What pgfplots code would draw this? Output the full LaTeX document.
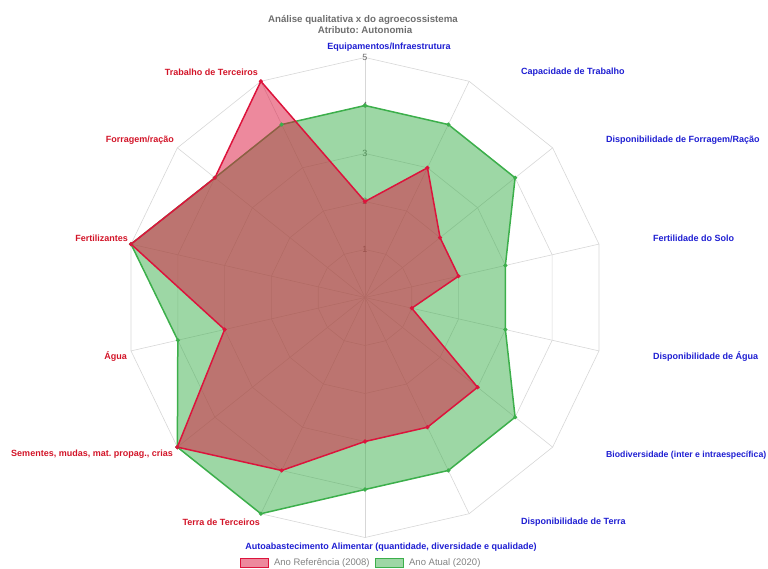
\documentclass[border=0pt]{standalone}
\usepackage{fontspec}
\setmainfont{Liberation Sans}
\usepackage{pgfplots}
\usepackage{pgfplotstable}
\pgfplotsset{compat=1.18}
\usepgfplotslibrary{polar}
\usetikzlibrary{calc}
\definecolor{lred}{RGB}{220,20,60}
\definecolor{lgreen}{RGB}{60,175,75}
\definecolor{lblue}{RGB}{30,30,210}
\definecolor{tred}{RGB}{210,20,40}
\definecolor{gridc}{RGB}{215,215,215}
\definecolor{titc}{RGB}{110,110,110}
\definecolor{legc}{RGB}{130,130,130}
\frenchspacing

\pgfplotstableread{
angle ref atual
90 2 4
64.2857 3 4
38.5714 2 4
12.8571 2 3
-12.8571 1 3
-38.5714 3 4
-64.2857 3 4
-90 3 4
-115.7143 4 5
-141.4286 5 5
-167.1429 3 4
167.1429 5 5
141.4286 4 4
115.7143 5 4
}\data

\begin{document}
\begin{tikzpicture}[x=1pt,y=1pt]
\begin{polaraxis}[
  name=ax, scale only axis, width=480pt, height=480pt,
  ymin=0, ymax=5, hide axis, clip=false,
  legend style={at={(axis description cs:0.4917,-0.053)}, anchor=center, draw=none, fill=none,
    legend columns=2, font=\fontsize{9.5}{10}\selectfont\frenchspacing, text=legc,
    /tikz/every odd column/.append style={column sep=3pt},
    /tikz/every even column/.append style={column sep=3pt}},
  legend image code/.code={\draw[#1] (0pt,-4.5pt) rectangle (28pt,4.5pt);},
]
\coordinate (O) at (axis cs:0,0);
\pgfplotsinvokeforeach{1,2,3,4,5}{
  \draw[gridc, line width=0.6pt] (axis cs:90,#1) -- (axis cs:64.2857,#1) -- (axis cs:38.5714,#1) -- (axis cs:12.8571,#1) -- (axis cs:-12.8571,#1) -- (axis cs:-38.5714,#1) -- (axis cs:-64.2857,#1) -- (axis cs:-90,#1) -- (axis cs:-115.7143,#1) -- (axis cs:-141.4286,#1) -- (axis cs:-167.1429,#1) -- (axis cs:167.1429,#1) -- (axis cs:141.4286,#1) -- (axis cs:115.7143,#1) -- cycle;
}
\pgfplotsinvokeforeach{90,64.2857,38.5714,12.8571,-12.8571,-38.5714,-64.2857,-90,-115.7143,-141.4286,-167.1429,167.1429,141.4286,115.7143}{
  \draw[gridc, line width=0.6pt] (axis cs:0,0) -- (axis cs:#1,5);
}
\pgfplotsinvokeforeach{1,2,3,4,5}{
  \node[text=titc, font=\fontsize{9}{9}\selectfont, inner sep=0pt] at (axis cs:90,#1) {#1};
}
\addlegendimage{draw=lred, fill=lred, fill opacity=0.5, line width=1.5pt}
\addlegendentry{Ano Referência (2008)}
\addlegendimage{draw=lgreen, fill=lgreen, fill opacity=0.5, line width=1.5pt}
\addlegendentry{Ano Atual (2020)}
\addplot[forget plot, draw=lgreen, fill=lgreen, fill opacity=0.5, line width=1.5pt, mark=*, mark size=1.2pt, mark options={fill opacity=1}] table[x=angle, y=atual]{\data} -- cycle;
\addplot[forget plot, draw=lred, fill=lred, fill opacity=0.5, line width=1.5pt, mark=*, mark size=1.2pt, mark options={fill opacity=1}] table[x=angle, y=ref]{\data} -- cycle;
\end{polaraxis}
\begin{scope}[font=\fontsize{9}{10}\selectfont\bfseries]
\node[text=titc, font=\fontsize{9.7}{10}\selectfont\bfseries] at ($(O)+(-2,278)$) {Análise qualitativa x do agroecossistema};
\node[text=titc, font=\fontsize{9.7}{10}\selectfont\bfseries] at ($(O)+(0,267)$) {Atributo: Autonomia};
\node[text=lblue, inner sep=0pt, anchor=center] at ($(O)+(24,250)$) {Equipamentos/Infraestrutura};
\node[text=lblue, inner sep=0pt, anchor=west] at ($(O)+(156,225)$) {Capacidade de Trabalho};
\node[text=lblue, inner sep=0pt, anchor=west] at ($(O)+(241,157)$) {Disponibilidade de Forragem/Ração};
\node[text=lblue, inner sep=0pt, anchor=west] at ($(O)+(288,59)$) {Fertilidade do Solo};
\node[text=lblue, inner sep=0pt, anchor=west] at ($(O)+(288,-59)$) {Disponibilidade de Água};
\node[text=lblue, inner sep=0pt, anchor=west, font=\fontsize{8.7}{10}\selectfont\bfseries] at ($(O)+(241,-158)$) {Biodiversidade (inter e intraespecífica)};
\node[text=lblue, inner sep=0pt, anchor=west] at ($(O)+(156,-225)$) {Disponibilidade de Terra};
\node[text=lblue, inner sep=0pt, anchor=center] at ($(O)+(26,-250)$) {Autoabastecimento Alimentar (quantidade, diversidade e qualidade)};
\node[text=tred, inner sep=0pt, anchor=east] at ($(O)+(-105,-225)$) {Terra de Terceiros};
\node[text=tred, inner sep=0pt, anchor=east] at ($(O)+(-192,-157)$) {Sementes, mudas, mat. propag., crias};
\node[text=tred, inner sep=0pt, anchor=east] at ($(O)+(-238,-59)$) {Água};
\node[text=tred, inner sep=0pt, anchor=east] at ($(O)+(-237,59)$) {Fertilizantes};
\node[text=tred, inner sep=0pt, anchor=east] at ($(O)+(-191,157)$) {Forragem/ração};
\node[text=tred, inner sep=0pt, anchor=east] at ($(O)+(-107,225)$) {Trabalho de Terceiros};
\end{scope}
\pgfresetboundingbox
\path[use as bounding box] ($(O)+(-365,-270.5)$) rectangle ($(O)+(403,297.5)$);
\end{tikzpicture}
\end{document}
